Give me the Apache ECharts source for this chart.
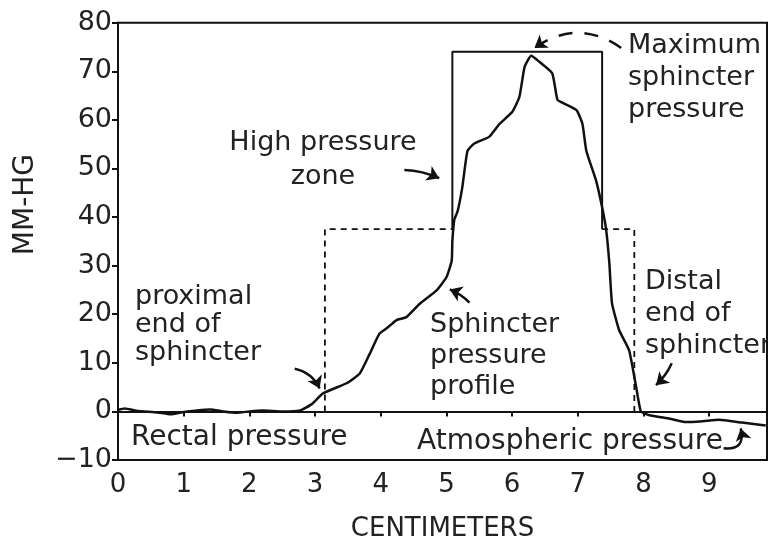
<!DOCTYPE html>
<html>
<head>
    <meta charset="utf-8">
    <title>Sphincter pressure profile</title>
    <script src="https://cdn.jsdelivr.net/npm/echarts@6/dist/echarts.min.js"></script>
</head>
<body style="margin:0;background:#fff;">
<style type="text/css">
#chart{width: 768px; height: 545px;}
</style>
    <div id="chart"></div>
    <script type="text/javascript">
        // pressure profile (cm, mm Hg)
        var profileX = [0, 0.1, 0.3, 0.6, 0.8, 1.0, 1.2, 1.4, 1.6, 1.8, 2.0, 2.2, 2.5, 2.77, 2.95, 3.12, 3.48, 3.68, 3.83, 3.98,
            4.09, 4.24, 4.39, 4.59, 4.85, 5.0, 5.08, 5.09, 5.12, 5.17, 5.24, 5.32, 5.42, 5.65, 5.81, 6.0, 6.11, 6.19, 6.29,
            6.41, 6.61, 6.69, 6.77, 6.98, 7.07, 7.13, 7.28, 7.37, 7.43, 7.48, 7.52, 7.63, 7.78, 7.89, 7.96, 8.09, 8.4,
            8.64, 8.9, 9.15, 9.5, 9.86];
        var profileY = [0.3, 0.6, 0.1, -0.2, -0.6, -0.1, 0.2, 0.4, 0.0, -0.3, 0.0, 0.2, 0.0, 0.2, 1.5, 3.7, 5.8, 7.8, 11.8, 16.0,
            17.1, 18.8, 19.4, 22.1, 24.9, 27.6, 31, 35, 39.5, 41.2, 46, 53.6, 55.1, 56.5, 59.2, 61.6, 64.7, 70.9, 73.2,
            72, 69.6, 64.1, 63.5, 62, 59.2, 53.6, 47.4, 42, 37.5, 30.5, 22.3, 16.7, 12.6, 4.9, 0, -0.8, -1.5,
            -2.2, -2.0, -1.7, -2.3, -2.9];
        // high pressure zone (solid box) and sphincter length (dashed box)
        var zoneX = [5.09, 5.09, 7.37, 7.37];
        var zoneY = [37.5, 74, 74, 37.5];
        var lengthLeftX = [3.15, 3.15, 5.09];
        var lengthLeftY = [0, 37.5, 37.5];
        var lengthRightX = [7.37, 7.86, 7.86];
        var lengthRightY = [37.5, 37.5, 0];
        var xTicks = [0, 1, 2, 3, 4, 5, 6, 7, 8, 9];
        var yTicks = [-10, 0, 10, 20, 30, 40, 50, 60, 70, 80];

        function pairs(xs, ys) {
            var out = [];
            for (var i = 0; i < xs.length; i++) {
                out.push([xs[i], ys[i]]);
            }
            return out;
        }
        function arrow(x1, y1, x2, y2, curve) {
            return {coords: [[x1, y1], [x2, y2]], lineStyle: {curveness: curve}};
        }

        var FONT = '"DejaVu Sans", sans-serif';
        var chart = echarts.init(document.getElementById('chart'));

        chart.setOption({
            animation: false,
            grid: {left: 118, right: 1, top: 22.7, bottom: 85, outerBoundsMode: 'none', containLabel: false,
                show: true, borderColor: '#111', borderWidth: 2},
            xAxis: {
                type: 'value', min: 0, max: 9.88, interval: 1,
                name: 'CENTIMETERS', nameLocation: 'middle', nameGap: 56,
                nameTextStyle: {fontFamily: FONT, fontSize: 26, color: '#222'},
                axisLine: {lineStyle: {color: '#111', width: 2}},
                axisTick: {length: 5, lineStyle: {color: '#111', width: 2}},
                axisLabel: {
                    margin: 12, fontFamily: FONT, fontSize: 26, color: '#222',
                    formatter: function (v) { return xTicks.indexOf(v) >= 0 ? String(v) : ''; }
                },
                splitLine: {show: false}
            },
            yAxis: {
                type: 'value', min: -10, max: 80, interval: 10,
                axisLine: {show: true, lineStyle: {color: '#111', width: 2}},
                axisTick: {show: true, length: 6, lineStyle: {color: '#111', width: 2}},
                axisLabel: {
                    margin: 6, fontFamily: FONT, fontSize: 27, color: '#222',
                    formatter: function (v) {
                        if (yTicks.indexOf(v) < 0) return '';
                        return v < 0 ? '\u2212' + Math.abs(v) : String(v);
                    }
                },
                splitLine: {show: false}
            },
            graphic: [
                {type: 'text', left: 12, top: 154, rotation: Math.PI / 2,
                    style: {text: 'MM-HG', font: '28px ' + FONT, fill: '#222'}},
                {type: 'text', x: 323, y: 160,
                    style: {text: 'High pressure\nzone', font: '27px ' + FONT, fill: '#222', align: 'center', verticalAlign: 'middle', lineHeight: 34}},
                {type: 'text', x: 135, y: 325,
                    style: {text: 'proximal\nend of\nsphincter', font: '27px ' + FONT, fill: '#222', verticalAlign: 'middle', lineHeight: 28}},
                {type: 'text', x: 430, y: 356,
                    style: {text: 'Sphincter\npressure\nprofile', font: '27px ' + FONT, fill: '#222', verticalAlign: 'middle', lineHeight: 31}},
                {type: 'text', x: 628, y: 78,
                    style: {text: 'Maximum\nsphincter\npressure', font: '27px ' + FONT, fill: '#222', verticalAlign: 'middle', lineHeight: 32}},
                {type: 'text', x: 645, y: 314,
                    style: {text: 'Distal\nend of\nsphincter', font: '27px ' + FONT, fill: '#222', verticalAlign: 'middle', lineHeight: 32}},
                {type: 'text', x: 131, y: 438,
                    style: {text: 'Rectal pressure', font: '28px ' + FONT, fill: '#222', verticalAlign: 'middle'}},
                {type: 'text', x: 417, y: 442,
                    style: {text: 'Atmospheric pressure', font: '28px ' + FONT, fill: '#222', verticalAlign: 'middle'}}
            ],
            series: [
                {
                    name: 'Sphincter pressure profile', type: 'line', data: pairs(profileX, profileY),
                    smooth: 0.15, showSymbol: false, z: 5,
                    lineStyle: {color: '#111', width: 2.5},
                    markLine: {
                        silent: true, symbol: ['none', 'none'], label: {show: false},
                        lineStyle: {color: '#111', width: 2, type: 'solid'},
                        data: [{yAxis: 0}]
                    }
                },
                {
                    name: 'High pressure zone', type: 'line', data: pairs(zoneX, zoneY),
                    showSymbol: false, lineStyle: {color: '#111', width: 2}
                },
                {
                    name: 'Sphincter length left', type: 'line', data: pairs(lengthLeftX, lengthLeftY),
                    showSymbol: false, lineStyle: {color: '#111', width: 1.8, type: [6, 5]}
                },
                {
                    name: 'Sphincter length right', type: 'line', data: pairs(lengthRightX, lengthRightY),
                    showSymbol: false, lineStyle: {color: '#111', width: 1.8, type: [6, 5]}
                },
                {
                    name: 'Pointers', type: 'lines', coordinateSystem: 'cartesian2d', silent: true,
                    symbol: ['none', 'arrow'], symbolSize: 12,
                    lineStyle: {color: '#111', width: 2.5, opacity: 1},
                    data: [
                        arrow(2.69, 8.8, 3.07, 4.7, 0.25),
                        arrow(4.36, 49.7, 4.89, 48.0, 0.1),
                        arrow(5.35, 22.4, 5.05, 25.1, -0.1),
                        arrow(8.43, 9.9, 8.19, 5.4, 0.1),
                        arrow(9.22, -7.6, 9.48, -3.5, -0.7)
                    ]
                },
                {
                    name: 'Maximum pointer', type: 'lines', coordinateSystem: 'cartesian2d', silent: true,
                    symbol: ['none', 'arrow'], symbolSize: 12,
                    lineStyle: {color: '#111', width: 2.5, opacity: 1, type: [14, 12]},
                    data: [arrow(7.66, 74.8, 6.34, 74.8, -0.35)]
                }
            ]
        });
    </script>
</body>
</html>
